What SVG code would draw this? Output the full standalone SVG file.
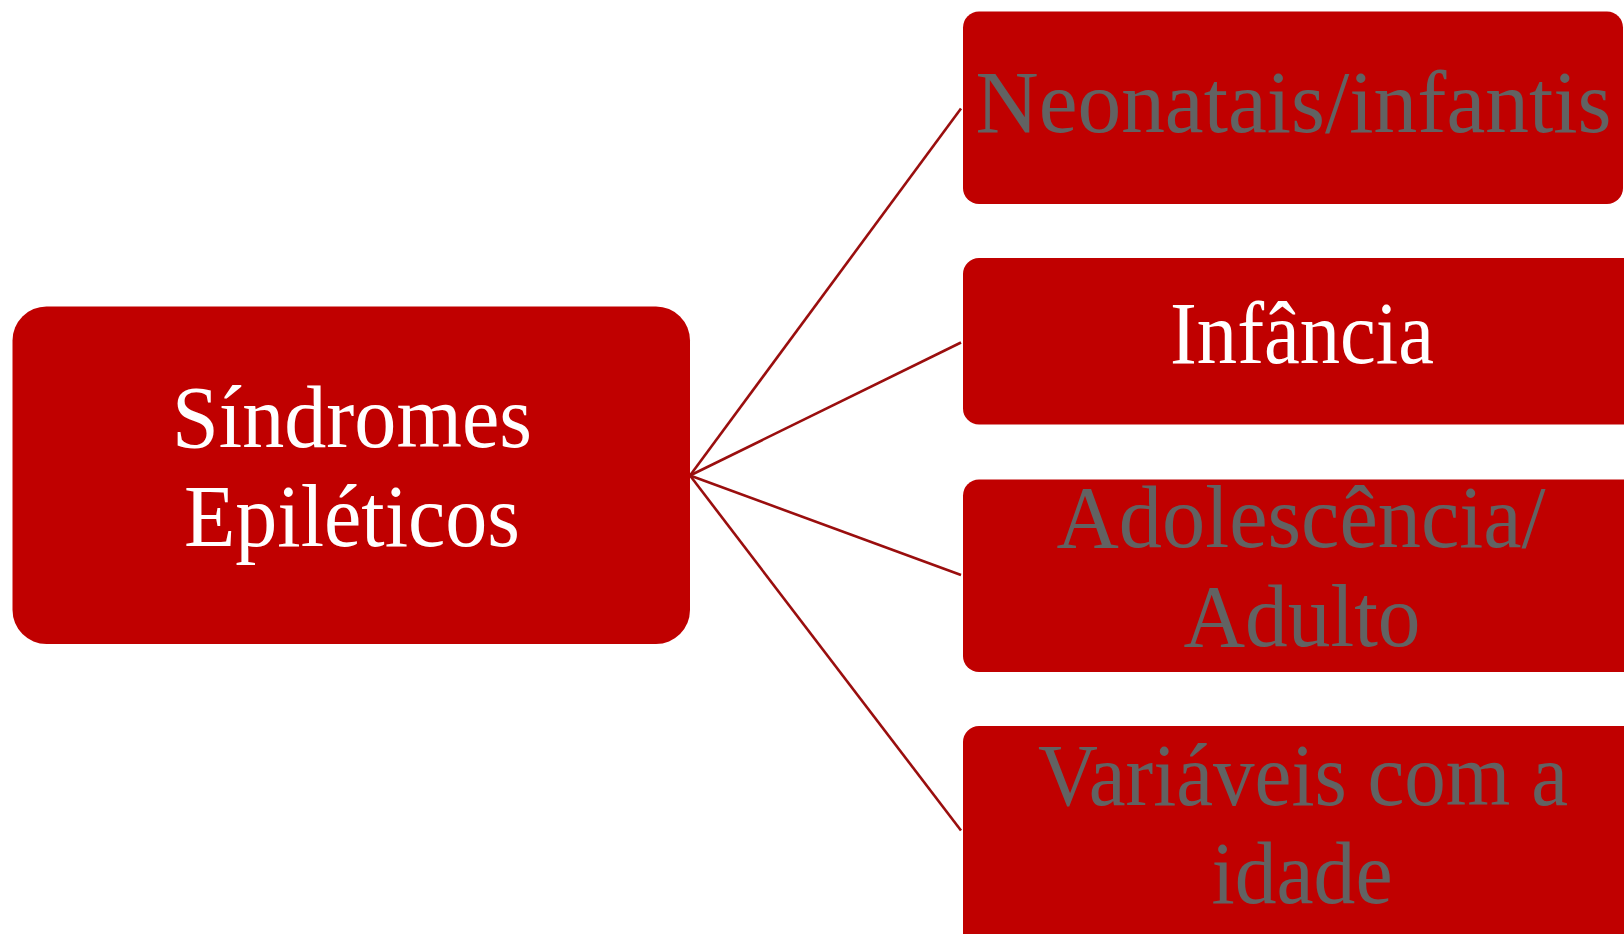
<svg xmlns="http://www.w3.org/2000/svg" width="1624" height="934" viewBox="0 0 1624 934">
  <style>
    .box { fill: #c00000; }
    .lbl { font-family: "Liberation Serif", "Times New Roman", serif; font-size: 88px; text-anchor: middle; }
    .light { fill: #ffffff; }
    .dim { fill: #626262; }
    .link { stroke: #9a0e0e; stroke-width: 2.6; fill: none; }
  </style>
  <rect width="1624" height="934" fill="#ffffff"/>

  <!-- connectors from the root to each age group -->
  <g id="connectors">
    <line class="link" x1="690" y1="475.5" x2="961" y2="108.5"/>
    <line class="link" x1="690" y1="475.5" x2="961" y2="342.5"/>
    <line class="link" x1="690" y1="475.5" x2="961" y2="575"/>
    <line class="link" x1="690" y1="475.5" x2="961" y2="830.5"/>
  </g>

  <g id="root">
    <rect class="box" x="12.5" y="306.5" width="677.5" height="337.5" rx="34" ry="34"/>
    <text class="lbl light" x="352" y="447" textLength="360" lengthAdjust="spacingAndGlyphs">Síndromes</text>
    <text class="lbl light" x="352" y="546" textLength="336" lengthAdjust="spacingAndGlyphs">Epiléticos</text>
  </g>

  <g id="neonatais">
    <rect class="box" x="963" y="11.5" width="660" height="192.5" rx="16" ry="16"/>
    <text class="lbl dim" x="1293.5" y="131.5" textLength="636" lengthAdjust="spacingAndGlyphs">Neonatais/infantis</text>
  </g>

  <g id="infancia">
    <rect class="box" x="963" y="258" width="700" height="166.5" rx="16" ry="16"/>
    <text class="lbl light" x="1302" y="362.5" textLength="264" lengthAdjust="spacingAndGlyphs">Infância</text>
  </g>

  <g id="adolescencia">
    <rect class="box" x="963" y="479.5" width="700" height="192.5" rx="16" ry="16"/>
    <text class="lbl dim" x="1301" y="547" textLength="489" lengthAdjust="spacingAndGlyphs">Adolescência/</text>
    <text class="lbl dim" x="1302" y="646" textLength="237" lengthAdjust="spacingAndGlyphs">Adulto</text>
  </g>

  <g id="variaveis">
    <rect class="box" x="963" y="726" width="700" height="230" rx="16" ry="16"/>
    <text class="lbl dim" x="1303" y="805" textLength="530" lengthAdjust="spacingAndGlyphs">Variáveis com a</text>
    <text class="lbl dim" x="1302" y="903" textLength="181" lengthAdjust="spacingAndGlyphs">idade</text>
  </g>
</svg>
